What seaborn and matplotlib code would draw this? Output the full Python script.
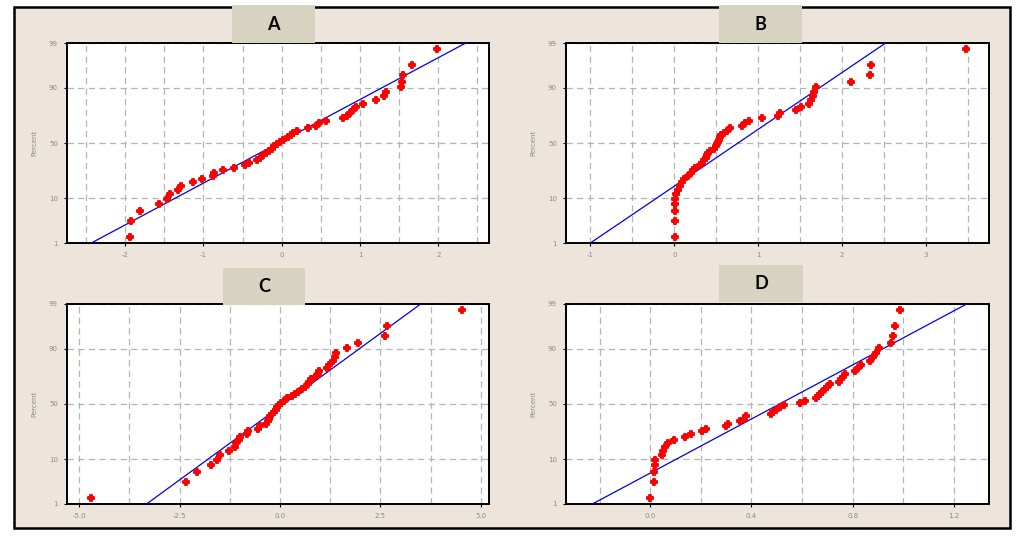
import matplotlib
matplotlib.use("Agg")
import matplotlib.pyplot as plt
import seaborn as sns
import pandas as pd
from statistics import NormalDist
from matplotlib.patches import Rectangle
from matplotlib.ticker import FixedLocator, MultipleLocator, FixedFormatter

# ---------------- data ----------------
panel_labels = ["A", "B", "C", "D"]

values_A = [-1.94, -1.92, -1.81, -1.57, -1.46, -1.43, -1.33, -1.29, -1.13, -1.02,
            -0.88, -0.86, -0.75, -0.61, -0.47, -0.42, -0.31, -0.28, -0.24, -0.20,
            -0.16, -0.13, -0.10, -0.06, -0.02, 0.02, 0.08, 0.12, 0.15, 0.19,
            0.33, 0.44, 0.48, 0.57, 0.78, 0.83, 0.87, 0.91, 0.95, 1.04,
            1.21, 1.31, 1.33, 1.53, 1.54, 1.55, 1.67, 1.99]
values_B = [0.01, 0.01, 0.01, 0.01, 0.01, 0.02, 0.04, 0.07, 0.09, 0.12,
            0.16, 0.20, 0.22, 0.25, 0.31, 0.33, 0.36, 0.38, 0.39, 0.40,
            0.42, 0.47, 0.50, 0.51, 0.52, 0.53, 0.55, 0.56, 0.59, 0.63,
            0.67, 0.81, 0.84, 0.89, 1.05, 1.24, 1.26, 1.45, 1.51, 1.61,
            1.63, 1.65, 1.67, 1.69, 2.11, 2.33, 2.35, 3.48]
values_C = [-4.71, -2.33, -2.07, -1.72, -1.57, -1.50, -1.28, -1.12, -1.09, -1.03,
            -0.99, -0.83, -0.79, -0.56, -0.50, -0.35, -0.30, -0.27, -0.24, -0.20,
            -0.16, -0.11, -0.07, -0.02, 0.03, 0.10, 0.17, 0.30, 0.38, 0.46,
            0.55, 0.62, 0.69, 0.73, 0.76, 0.88, 0.94, 0.97, 1.17, 1.22,
            1.32, 1.36, 1.40, 1.66, 1.94, 2.62, 2.66, 4.52]
values_D = [0.000, 0.013, 0.013, 0.017, 0.017, 0.047, 0.050, 0.060, 0.070, 0.092,
            0.136, 0.162, 0.206, 0.219, 0.298, 0.307, 0.353, 0.369, 0.380, 0.478,
            0.485, 0.498, 0.514, 0.527, 0.590, 0.610, 0.657, 0.665, 0.670, 0.680,
            0.690, 0.700, 0.712, 0.748, 0.755, 0.762, 0.770, 0.810, 0.820, 0.835,
            0.868, 0.880, 0.893, 0.904, 0.950, 0.960, 0.967, 0.986]

# fitted normal reference lines (mean, sd)
fit_mean = [-0.04, 0.76, 0.09, 0.511]
fit_sd = [1.028, 0.757, 1.466, 0.318]

percent_ticks = [1, 10, 50, 90, 99]
xticks_A = [-2, -1, 0, 1, 2]
xticks_B = [-1, 0, 1, 2, 3]
xticks_C = [-5.0, -2.5, 0.0, 2.5, 5.0]
xticks_D = [0.0, 0.4, 0.8, 1.2]
xticklabels_A = ["-2", "-1", "0", "1", "2"]
xticklabels_B = ["-1", "0", "1", "2", "3"]
xticklabels_C = ["-5.0", "-2.5", "0.0", "2.5", "5.0"]
xticklabels_D = ["0.0", "0.4", "0.8", "1.2"]

# ---------------- layout / style ----------------
W, H = 1024, 541
xlims = [(-2.742, 2.648), (-1.292, 3.754), (-5.30, 5.20), (-0.333, 1.339)]
minor_steps = [0.5, 0.5, 1.25, 0.2]
axes_px = [(67, 43, 489, 243), (566, 43, 989, 243),
           (67, 304, 489, 504), (566, 304, 989, 504)]
label_px = [(232, 5, 315, 43), (719, 5, 802, 43),
            (223, 268, 305, 305), (719, 265, 803, 302)]

nd = NormalDist()
zmax = nd.inv_cdf(0.99)

fig = plt.figure(figsize=(W / 100, H / 100), dpi=100)
fig.patch.set_facecolor("white")

frame = Rectangle((14 / W, 1 - 528 / H), 996 / W, 521 / H, transform=fig.transFigure,
                  facecolor="#ede5db", edgecolor="black", linewidth=1.8, zorder=-10)
fig.add_artist(frame)

all_values = [values_A, values_B, values_C, values_D]
all_xticks = [xticks_A, xticks_B, xticks_C, xticks_D]
all_xticklabels = [xticklabels_A, xticklabels_B, xticklabels_C, xticklabels_D]

for k in range(4):
    x0, y0, x1, y1 = axes_px[k]
    ax = fig.add_axes([x0 / W, 1 - y1 / H, (x1 - x0) / W, (y1 - y0) / H])
    ax.set_facecolor("white")
    vals = sorted(all_values[k])
    n = len(vals)
    z = [nd.inv_cdf((i + 1 - 0.3) / (n + 0.4)) for i in range(n)]
    df = pd.DataFrame({"value": vals, "z": z})

    line_df = pd.DataFrame({"z": [-zmax, zmax]})
    line_df["value"] = fit_mean[k] + fit_sd[k] * line_df["z"]
    sns.lineplot(data=line_df, x="value", y="z", ax=ax, color="#0000e6",
                 linewidth=0.9, sort=False, zorder=3)
    sns.scatterplot(data=df, x="value", y="z", ax=ax, marker="P", s=22,
                    color="#ff0000", edgecolor="#ff0000", linewidth=1.4, zorder=4)

    ax.set_xlim(*xlims[k])
    ax.set_ylim(-zmax, zmax)
    ax.xaxis.set_major_locator(FixedLocator(all_xticks[k]))
    ax.xaxis.set_major_formatter(FixedFormatter(all_xticklabels[k]))
    ax.xaxis.set_minor_locator(MultipleLocator(minor_steps[k]))
    yt = [nd.inv_cdf(p / 100) for p in percent_ticks]
    ax.yaxis.set_major_locator(FixedLocator(yt))
    ax.yaxis.set_major_formatter(FixedFormatter([str(p) for p in percent_ticks]))

    ax.grid(True, which="both", axis="x", color="#b4b4b4", linestyle=(0, (5, 3.5)),
            linewidth=0.9, zorder=0)
    ax.grid(True, which="major", axis="y", color="#b4b4b4", linestyle=(0, (5, 3.5)),
            linewidth=0.9, zorder=0)
    ax.set_axisbelow(True)
    ax.tick_params(axis="both", which="major", length=2.5, width=0.8, color="black",
                   labelsize=5, labelcolor="#8a8a8a", pad=4)
    ax.tick_params(axis="both", which="minor", length=0)
    for sp in ax.spines.values():
        sp.set_linewidth(1.4)
        sp.set_color("black")
    ax.set_xlabel("")
    ax.set_ylabel("Percent", fontsize=5, color="#8a8a8a", labelpad=8)

    bx0, by0, bx1, by1 = label_px[k]
    box = Rectangle((bx0 / W, 1 - by1 / H), (bx1 - bx0) / W, (by1 - by0) / H,
                    transform=fig.transFigure, facecolor="#d8d3c0", edgecolor="none",
                    zorder=20)
    fig.add_artist(box)
    fig.text((bx0 + bx1) / 2 / W, 1 - (by0 + by1) / 2 / H, panel_labels[k],
             ha="center", va="center", fontsize=13, fontweight="bold",
             family=["Lato", "DejaVu Sans"], color="black", zorder=21)

fig.savefig("out.png", dpi=100, facecolor="white")
